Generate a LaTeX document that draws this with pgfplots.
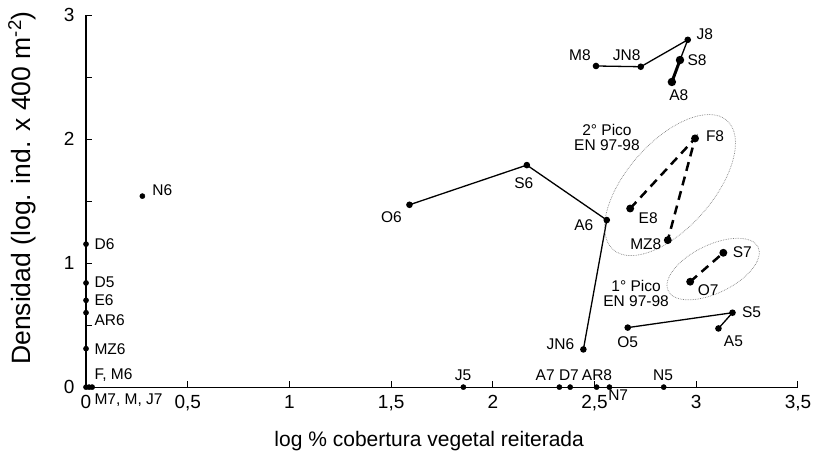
\documentclass[border=0pt]{standalone}
\usepackage{pgfplots}
\pgfplotsset{compat=1.18}
\usepackage{fontspec}
\setmainfont{Liberation Sans}
\usetikzlibrary{shapes.geometric}
\newcommand{\lbl}{\fontsize{15.5}{17}\selectfont}
\begin{document}
\begin{tikzpicture}
\begin{axis}[
  scale only axis, width=711.7pt, height=372pt,
  xmin=0, xmax=3.5, ymin=0, ymax=3,
  axis x line*=bottom, axis y line*=left,
  axis line style={line width=1.2pt},
  clip=false,
  xtick={0,0.5,1,1.5,2,2.5,3,3.5},
  xticklabels={0,{0,5},1,{1,5},2,{2,5},3,{3,5}},
  ytick={0,1,2,3}, yticklabels={0,1,2,3},
  minor ytick={0.5,1.5,2.5},
  tick align=inside,
  major tick length=6pt, minor tick length=6pt,
  tick style={black, line width=1pt},
  ticklabel style={font=\fontsize{19}{21}\selectfont},
  xticklabel style={yshift=-5pt},
  yticklabel style={xshift=-8pt},
  xlabel={log \% cobertura vegetal reiterada},
  ylabel={Densidad (log. ind. x 400 m\textsuperscript{-2})},
  xlabel style={font=\fontsize{21}{23}\selectfont, at={(axis description cs:0.482,0)}, anchor=center, yshift=-54pt},
  ylabel style={font=\fontsize{26.5}{28}\selectfont, at={(axis description cs:-0.09,0.535)}, anchor=center},
]
% connected solid series
\addplot[black, line width=1.3pt, mark=*, mark size=2.6pt] coordinates {(1.59,1.47)(2.167,1.79)(2.56,1.347)(2.445,0.304)};
\addplot[black, line width=1.3pt, mark=*, mark size=2.6pt] coordinates {(2.663,0.48)(3.178,0.60)(3.109,0.473)};
\addplot[black, line width=1.3pt, mark=*, mark size=2.6pt] coordinates {(2.507,2.589)(2.727,2.583)(2.958,2.80)(2.92,2.637)};
\addplot[black, line width=3pt, mark=*, mark size=2.6pt] coordinates {(2.92,2.637)(2.88,2.46)};
% dashed series
\addplot[black, line width=2.5pt, dash pattern=on 9pt off 6pt, mark=*, mark size=2.6pt, mark options={solid}] coordinates {(2.675,1.44)(2.994,2.005)(2.86,1.185)};
\addplot[black, line width=2.5pt, dash pattern=on 9pt off 6pt, mark=*, mark size=2.6pt, mark options={solid}] coordinates {(2.97,0.85)(3.133,1.083)};
% single points
\addplot[only marks, black, mark=*, mark size=2.6pt] coordinates {(0.277,1.54)(0,1.153)(0,0.84)(0,0.70)(0,0.60)(0,0.31)(0,0)(0.015,0)(0.03,0)(1.855,0)(2.327,0)(2.38,0)(2.51,0)(2.573,0)(2.84,0)};
% ellipses
\node[draw=gray, densely dotted, line width=0.7pt, ellipse, rotate=48.6, minimum width=172pt, minimum height=86pt, inner sep=0pt] at (axis cs:2.871,1.629) {};
\node[draw=gray, densely dotted, line width=0.7pt, ellipse, rotate=26, minimum width=100pt, minimum height=48pt, inner sep=0pt] at (axis cs:3.083,0.952) {};
% point labels
\node[font=\lbl] at (axis cs:0.277,1.54) [xshift=20pt, yshift=6pt] {N6};
\node[font=\lbl] at (axis cs:1.59,1.47) [xshift=-18pt, yshift=-12pt] {O6};
\node[font=\lbl] at (axis cs:2.167,1.79) [xshift=-3pt, yshift=-18pt] {S6};
\node[font=\lbl] at (axis cs:2.56,1.347) [xshift=-23pt, yshift=-5pt] {A6};
\node[font=\lbl] at (axis cs:2.445,0.304) [xshift=-23pt, yshift=5pt] {JN6};
\node[font=\lbl] at (axis cs:2.663,0.48) [xshift=0pt, yshift=-15pt] {O5};
\node[font=\lbl] at (axis cs:3.178,0.60) [xshift=19pt, yshift=1pt] {S5};
\node[font=\lbl] at (axis cs:3.109,0.473) [xshift=15pt, yshift=-13pt] {A5};
\node[font=\lbl] at (axis cs:2.97,0.85) [xshift=18pt, yshift=-8pt] {O7};
\node[font=\lbl] at (axis cs:3.133,1.083) [xshift=19pt, yshift=1pt] {S7};
\node[font=\lbl] at (axis cs:2.86,1.185) [xshift=-22pt, yshift=-4pt] {MZ8};
\node[font=\lbl] at (axis cs:2.675,1.44) [xshift=18pt, yshift=-10pt] {E8};
\node[font=\lbl] at (axis cs:2.994,2.005) [xshift=20pt, yshift=2pt] {F8};
\node[font=\lbl] at (axis cs:2.507,2.589) [xshift=-16pt, yshift=11pt] {M8};
\node[font=\lbl] at (axis cs:2.727,2.583) [xshift=-14pt, yshift=12pt] {JN8};
\node[font=\lbl] at (axis cs:2.958,2.80) [xshift=17pt, yshift=6pt] {J8};
\node[font=\lbl] at (axis cs:2.92,2.637) [xshift=17pt, yshift=0pt] {S8};
\node[font=\lbl] at (axis cs:2.88,2.46) [xshift=7pt, yshift=-13pt] {A8};
% left column
\node[font=\lbl, anchor=west] at (axis cs:0,1.153) [xshift=5pt] {D6};
\node[font=\lbl, anchor=west] at (axis cs:0,0.847) [xshift=5pt] {D5};
\node[font=\lbl, anchor=west] at (axis cs:0,0.70) [xshift=5pt] {E6};
\node[font=\lbl, anchor=west] at (axis cs:0,0.54) [xshift=5pt] {AR6};
\node[font=\lbl, anchor=west] at (axis cs:0,0.306) [xshift=5pt] {MZ6};
\node[font=\lbl, anchor=west] at (axis cs:0,0.097) [xshift=5pt] {F, M6};
\node[font=\lbl, anchor=west] at (axis cs:0,-0.105) [xshift=5pt] {M7, M, J7};
% bottom
\node[font=\lbl] at (axis cs:1.853,0.097) {J5};
\node[font=\lbl] at (axis cs:2.257,0.097) {A7};
\node[font=\lbl] at (axis cs:2.374,0.097) {D7};
\node[font=\lbl] at (axis cs:2.512,0.097) {AR8};
\node[font=\lbl] at (axis cs:2.837,0.097) {N5};
\node[font=\lbl] at (axis cs:2.616,-0.065) {N7};
% peak notes
\node[font=\lbl, align=center] at (axis cs:2.561,2.016) {2° Pico\\[-2pt]EN 97-98};
\node[font=\lbl, align=center] at (axis cs:2.704,0.758) {1° Pico\\[-2pt]EN 97-98};
\end{axis}
\pgfresetboundingbox
\path[use as bounding box] (-86pt,-75pt) rectangle (731.7pt,387pt);
\end{tikzpicture}
\end{document}
